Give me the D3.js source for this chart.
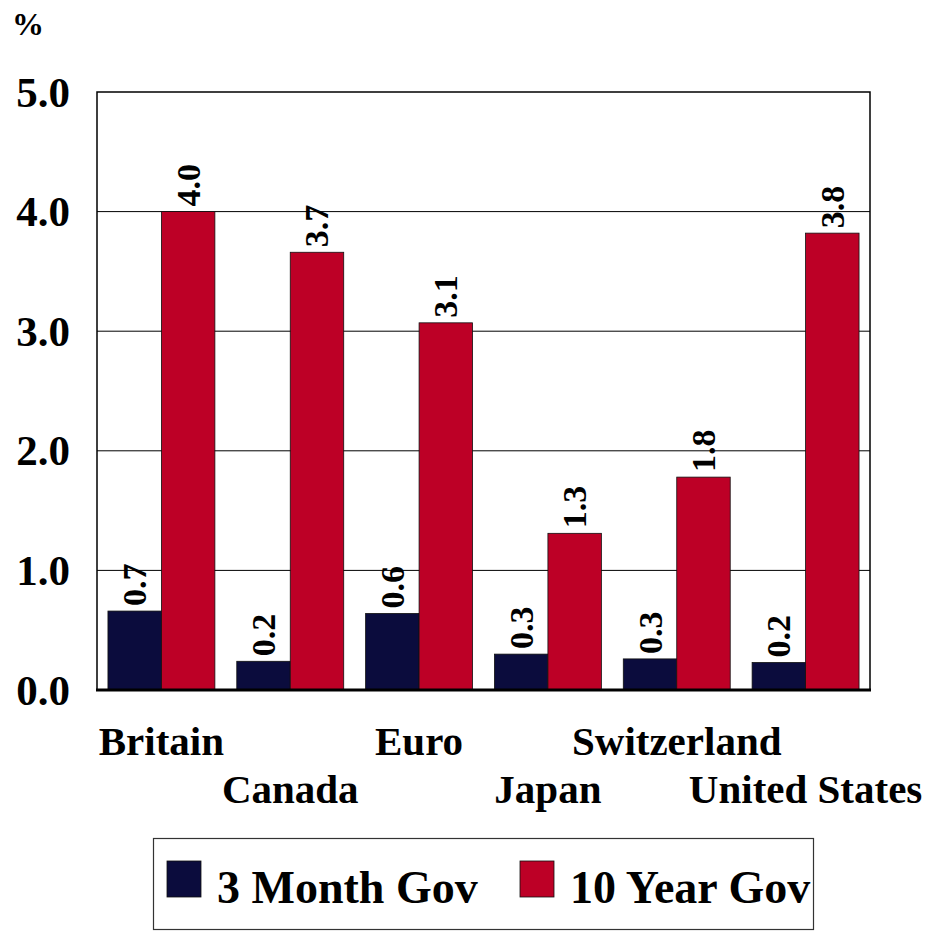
<!DOCTYPE html>
<html><head><meta charset="utf-8">
<script src="https://cdn.jsdelivr.net/npm/d3@7"></script>
<style>html,body{margin:0;padding:0;background:#fff;}svg{display:block;}</style>
</head><body>
<script>
const categories = ["Britain","Canada","Euro","Japan","Switzerland","United States"];
const series = ["3 Month Gov","10 Year Gov"];
const threeMonth = [0.66, 0.24, 0.64, 0.30, 0.26, 0.23];
const tenYear = [4.00, 3.66, 3.07, 1.31, 1.78, 3.82];
const valueLabels3M = ["0.7","0.2","0.6","0.3","0.3","0.2"];
const valueLabels10Y = ["4.0","3.7","3.1","1.3","1.8","3.8"];
const yTicks = [0,1,2,3,4,5];
const colors = ["#0b0c3d","#bd0026"];

(function(){
const W = 934, H = 932;
const svg = d3.select("body").append("svg").attr("width",W).attr("height",H);
const pL = 97, pR = 870, pT = 92, pB = 690;
const serif = "Liberation Serif";

const y = d3.scaleLinear().domain([0,5]).range([pB, pT]);
const x0 = d3.scaleBand().domain(categories).range([pL,pR]).paddingInner(0.17).paddingOuter(0.085);
const x1 = d3.scaleBand().domain(series).range([0, x0.bandwidth()]);

svg.append("g").selectAll("line").data(yTicks.filter(t=>t>0 && t<5)).join("line")
  .attr("x1",pL).attr("x2",pR).attr("y1",d=>y(d)).attr("y2",d=>y(d))
  .attr("stroke","#000").attr("stroke-width",1);

svg.append("path").attr("d",`M${pL},${pB}V${pT}H${pR}V${pB}`)
  .attr("fill","none").attr("stroke","#000").attr("stroke-width",1.5);

const data = categories.map((c,i)=>({c, vals:[
  {s:series[0], v:threeMonth[i], l:valueLabels3M[i]},
  {s:series[1], v:tenYear[i], l:valueLabels10Y[i]}]}));

const g = svg.append("g").selectAll("g").data(data).join("g")
  .attr("transform",d=>`translate(${x0(d.c)},0)`);
g.selectAll("rect").data(d=>d.vals).join("rect")
  .attr("x",d=>x1(d.s)).attr("width",x1.bandwidth())
  .attr("y",d=>y(d.v)).attr("height",d=>y(0)-y(d.v))
  .attr("fill",(d,i)=>colors[i]).attr("stroke","#111").attr("stroke-width",0.8);
g.selectAll("text").data(d=>d.vals).join("text")
  .attr("transform",d=>`translate(${x1(d.s)+x1.bandwidth()/2},${y(d.v)-5}) rotate(-90)`)
  .attr("dominant-baseline","central").attr("text-anchor","start")
  .attr("font-family",serif).attr("font-weight","bold").attr("font-size",34)
  .text(d=>d.l);

svg.append("line").attr("x1",pL-1).attr("x2",pR+1).attr("y1",y(0)).attr("y2",y(0))
  .attr("stroke","#000").attr("stroke-width",3);

svg.append("g").selectAll("text").data(yTicks).join("text")
  .attr("x",70).attr("y",d=>y(d)).attr("dominant-baseline","central").attr("text-anchor","end")
  .attr("font-family",serif).attr("font-weight","bold").attr("font-size",43)
  .text(d=>d3.format(".1f")(d));

svg.append("text").attr("x",12).attr("y",35).attr("font-family",serif)
  .attr("font-weight","bold").attr("font-size",32).text("%");

svg.append("g").selectAll("text").data(categories).join("text")
  .attr("x",d=>x0(d)+x0.bandwidth()/2).attr("y",(d,i)=> i%2===0 ? 755 : 803)
  .attr("text-anchor","middle").attr("font-family",serif).attr("font-weight","bold")
  .attr("font-size",41).text(d=>d);

const lg = svg.append("g");
lg.append("rect").attr("x",153.5).attr("y",838.5).attr("width",660).attr("height",91)
  .attr("fill","#fff").attr("stroke","#333").attr("stroke-width",1.2);
const lx = [167, 520];
series.forEach((s,i)=>{
  lg.append("rect").attr("x",lx[i]).attr("y",861).attr("width",34).attr("height",36)
    .attr("fill",colors[i]).attr("stroke","#111").attr("stroke-width",0.8);
  lg.append("text").attr("x",lx[i]+50).attr("y",903).attr("font-family",serif)
    .attr("font-weight","bold").attr("font-size",46).text(s);
});
})();
</script>
</body></html>
